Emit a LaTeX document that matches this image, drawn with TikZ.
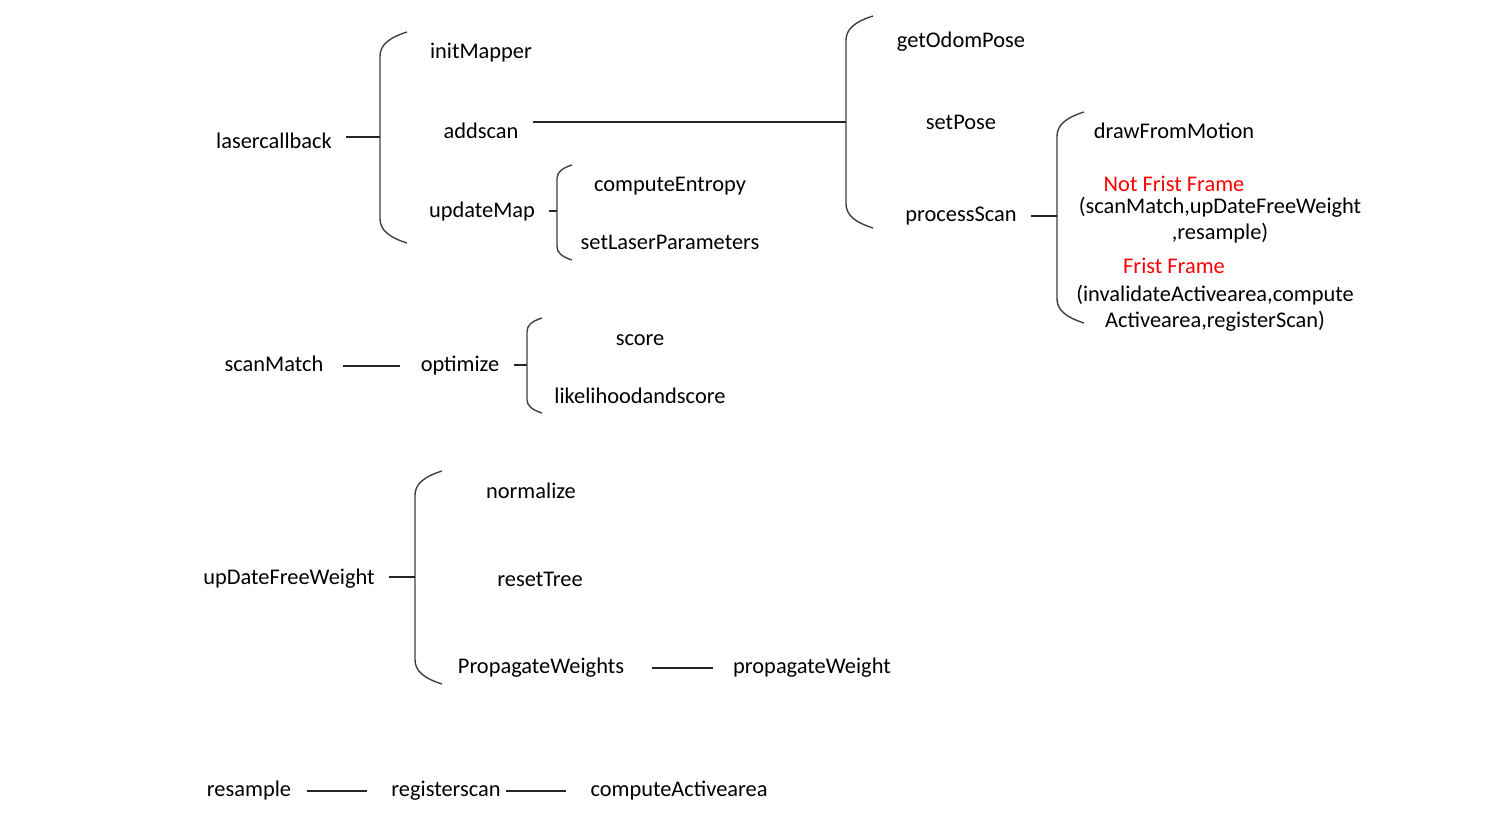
\documentclass[tikz,border=0pt]{standalone}
\usepackage{fontspec}
\setmainfont{Carlito}
\usetikzlibrary{positioning}
\tikzset{
  fn/.style={inner xsep=7pt, inner ysep=2pt, yshift=-1.5pt, font=\fontsize{11.2}{13}\selectfont, text height=1.5ex, text depth=0.4ex},
  note/.style={fn, text=red},
  multi/.style={fn, align=center, text height=, text depth=},
  link/.style={line width=0.9pt, draw=black!85},
  brace/.style={line width=0.7pt, draw=black!75},
}
% curly brace: x, top, bottom, width
\newcommand{\brc}[4]{\draw[brace] (#1+#4,#2) .. controls (#1+#4*0.3,#2+#4*0.22) and (#1,#2+#4*0.5) .. (#1,#2+#4*0.9) -- (#1,#3-#4*0.9) .. controls (#1,#3-#4*0.5) and (#1+#4*0.3,#3-#4*0.22) .. (#1+#4,#3);}

\begin{document}
\begin{tikzpicture}[x=0.5pt, y=-0.5pt]
  \useasboundingbox (0,0) rectangle (1487,817);

  % laser callback tree
  \node[fn] (lcb) at (274,140) {lasercallback};
  \node[fn] (init) at (481,50) {initMapper};
  \node[fn] (adds) at (481,130) {addscan};
  \node[fn] (upd) at (482,209) {updateMap};
  \node[fn] (ent) at (670,183) {computeEntropy};
  \node[fn] (lpar) at (670,241) {setLaserParameters};

  \node[fn] (odom) at (961,39) {getOdomPose};
  \node[fn] (spose) at (961,121) {setPose};
  \node[fn] (pscan) at (961,213) {processScan};

  \node[fn] (dfm) at (1174,130) {drawFromMotion};
  \node[note] (nff) at (1174,183) {Not Frist Frame};
  \node[multi] (nffl) at (1220,217) {(scanMatch,upDateFreeWeight\\,resample)};
  \node[note] (ff) at (1174,265) {Frist Frame};
  \node[multi] (ffl) at (1215,305) {(invalidateActivearea,compute\\Activearea,registerScan)};

  \coordinate (b1) at (380,137);
  \coordinate (b2) at (846,122);
  \coordinate (b3) at (1057,216);
  \coordinate (b4) at (557,211);
  \brc{380}{32}{243}{27}
  \brc{846}{16}{228}{27}
  \brc{1057}{112}{323}{27}
  \brc{557}{165}{260}{15}

  \draw[link] (lcb.east |- b1) -- (b1);
  \draw[link] (adds.east |- b2) -- (b2);
  \draw[link] (pscan.east |- b3) -- (b3);
  \draw[link] (upd.east |- b4) -- (b4);

  % scan match
  \node[fn] (smatch) at (274,363) {scanMatch};
  \node[fn] (opt) at (460,363) {optimize};
  \node[fn] (score) at (640,337) {score};
  \node[fn] (lhs) at (640,395) {likelihoodandscore};
  \coordinate (b5) at (527,365);
  \brc{527}{318}{413}{15}
  \draw[link, shorten <=2.5pt, shorten >=3pt] (smatch.east) -- (opt.west);
  \draw[link] (opt.east |- b5) -- (b5);

  % free weight update
  \node[fn] (udfw) at (289,576) {upDateFreeWeight};
  \node[fn] (norm) at (531,490) {normalize};
  \node[fn] (reset) at (540,578) {resetTree};
  \node[fn] (pw) at (541,665) {PropagateWeights};
  \node[fn] (pwt) at (812,665) {propagateWeight};
  \coordinate (b6) at (415,577);
  \brc{415}{471}{684}{27}
  \draw[link] (udfw.east |- b6) -- (b6);
  \draw[link, shorten <=7pt, shorten >=3pt] (pw.east) -- (pwt.west);

  % resample chain
  \node[fn] (rs) at (249,788) {resample};
  \node[fn] (regs) at (446,788) {registerscan};
  \node[fn] (cact) at (679,788) {computeActivearea};
  \draw[link, shorten <=1pt, shorten >=5pt] (rs.east) -- (regs.west);
  \draw[link, shorten <=-4.5pt, shorten >=5pt] (regs.east) -- (cact.west);
\end{tikzpicture}
\end{document}
